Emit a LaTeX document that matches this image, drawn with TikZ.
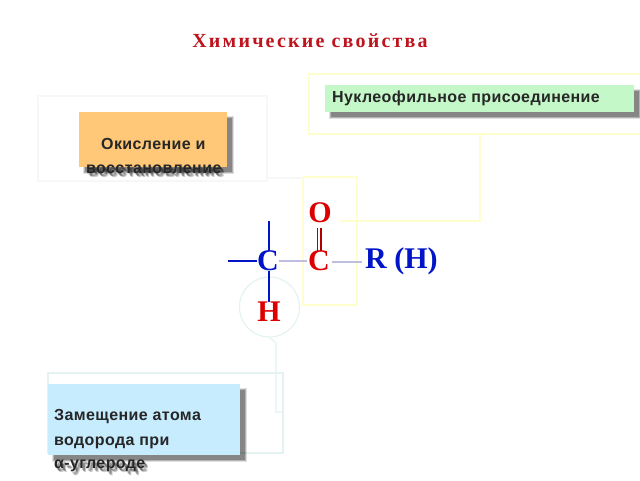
\documentclass[tikz,border=0pt]{standalone}
\usepackage{fontspec}
\setmainfont[LetterSpace=2.5]{Liberation Sans}
\newfontfamily\titlefont[LetterSpace=11]{Liberation Serif}
\newfontfamily\chemfont{Liberation Serif}
\usetikzlibrary{calc}
\definecolor{faintyellow}{RGB}{255,255,205}
\definecolor{faintgray}{RGB}{247,247,247}
\definecolor{faintblue}{RGB}{228,242,242}
\definecolor{orangebox}{RGB}{255,200,120}
\definecolor{greenbox}{RGB}{196,248,200}
\definecolor{bluebox}{RGB}{198,236,254}
\definecolor{titlered}{RGB}{190,20,30}
\definecolor{chemred}{RGB}{220,0,0}
\definecolor{chemblue}{RGB}{0,20,200}
\definecolor{bondgray}{RGB}{190,190,225}
\newcommand{\softshadow}[4]{%
  \fill[black,opacity=.12] (#1-1.5,#2-1.5) rectangle (#3+1.5,#4+1.5);
  \fill[black,opacity=.2] (#1-.5,#2-.5) rectangle (#3+.5,#4+.5);
  \fill[black,opacity=.25] (#1+.5,#2+.5) rectangle (#3-.5,#4-.5);}
\newcommand{\softtext}[4]{%
  \node[textshadow,opacity=.2] (#1x) at (#2+1.5,#3+2.5) {#4};
  \node[textshadow,opacity=.2] (#1y) at (#2+3.5,#3+4.5) {#4};
  \node[textshadow,opacity=.3] (#1z) at (#2+2.5,#3+3.5) {#4};}
\tikzset{
  x=1pt,y=-1pt,
  frameline/.style={line width=1.1pt},
  yellowline/.style={frameline,draw=faintyellow},
  grayline/.style={frameline,draw=faintgray},
  blueline/.style={frameline,draw=faintblue},
  panel/.style={anchor=north west,inner sep=0pt,outer sep=0pt},
  boxtext/.style={font=\fontsize{16}{16}\selectfont\bfseries,text=black!85,inner sep=0pt,anchor=base west},
  textshadow/.style={font=\fontsize{16}{16}\selectfont\bfseries,text=black,inner sep=0pt,anchor=base west},
  atom/.style={font=\chemfont\fontsize{30}{30}\selectfont\bfseries,inner sep=0pt},
  bluebond/.style={draw=chemblue,line width=1.3pt},
  softbond/.style={draw=bondgray,line width=1.3pt},
  redbond/.style={draw=chemred!80!black,line width=1.2pt},
}
\begin{document}
\begin{tikzpicture}
\useasboundingbox (0,0) rectangle (640,480);
\fill[white] (0,0) rectangle (640,480);
% frames
\node[grayline,draw,panel,minimum width=229pt,minimum height=85pt] (oxframe) at (38,96) {};
\node[yellowline,draw,panel,minimum width=335pt,minimum height=60pt] (nuframe) at (309,74) {};
\node[yellowline,draw,panel,minimum width=54pt,minimum height=128pt] (coframe) at (303,177) {};
\node[blueline,draw,panel,minimum width=235pt,minimum height=80pt] (subframe) at (48,373) {};
\node[circle,blueline,draw,minimum size=60pt,inner sep=0pt] (hcircle) at (269.5,307) {};
% connectors
\coordinate (oxend) at (oxframe.south east);
\draw[grayline] ($(oxend)+(0,-3)$) -- ($(coframe.north west)+(0,1)$);
\coordinate (nuout) at ($(nuframe.south west)+(171,0)$);
\coordinate (nucorner) at (480,221);
\coordinate (nuin) at (340,221);
\draw[yellowline] (nuout) -- (nucorner) -- (nuin);
\coordinate (hout) at (hcircle.south);
\coordinate (hbend) at (276,343);
\coordinate (hdown) at (276,412);
\coordinate (hin) at (283,412);
\draw[blueline] (hout) -- (hbend) -- (hdown) -- (hin);
% boxes
\softshadow{84}{117}{232}{172}
\node[panel,fill=orangebox,minimum width=148pt,minimum height=55pt] (oxbox) at (79,112) {};
\softshadow{330}{90}{639}{117}
\node[panel,fill=greenbox,minimum width=309pt,minimum height=27pt] (nubox) at (325,85) {};
\softshadow{53}{389}{245}{460}
\node[panel,fill=bluebox,minimum width=192pt,minimum height=71pt] (subbox) at (48,384) {};
% title
\node[font=\titlefont\fontsize{20}{20}\selectfont\bfseries,text=titlered,inner sep=0pt] (title) at (310,41) {Химические свойства};
% box text
\softtext{t1s}{86}{173}{восстановление}
\node[boxtext] (t1a) at (101,149) {Окисление и};
\node[boxtext] (t1b) at (86,173) {восстановление};
\node[boxtext] (t2) at (332,102) {Нуклеофильное присоединение};
\node[boxtext] (t3a) at (54,420) {Замещение атома};
\node[boxtext] (t3b) at (54,445) {водорода при};
\softtext{t3s}{54}{468}{α-углероде}
\node[boxtext] (t3c) at (54,468) {α-углероде};
% formula
\node[atom,text=chemred] (O) at (320,213) {O};
\node[atom,text=chemred] (C2) at (319,261) {C};
\node[atom,text=chemblue] (C1) at (268,261) {C};
\node[atom,text=chemred] (H) at (269,312) {H};
\node[atom,text=chemblue,anchor=west] (R) at (365,261) {R (H)};
\coordinate (C1top) at (269,221);
\coordinate (C1left) at (228,261);
\draw[bluebond] (C1top) -- (C1top |- C1.north);
\draw[bluebond] (C1left) -- (C1.west);
\draw[softbond] ([xshift=0pt]C1.east) -- ([xshift=-1pt]C2.west);
\draw[softbond] ([xshift=2pt,yshift=-1pt]C2.east) -- ([xshift=-3pt,yshift=-1pt]R.west);
\draw[bluebond] (C1top |- C1.south) -- (C1top |- H.north);
\coordinate (dblA) at (317.5,228);
\coordinate (dblB) at (321,228);
\draw[redbond] (dblA) -- (dblA |- C2.north);
\draw[redbond] (dblB) -- (dblB |- C2.north);
\end{tikzpicture}
\end{document}
